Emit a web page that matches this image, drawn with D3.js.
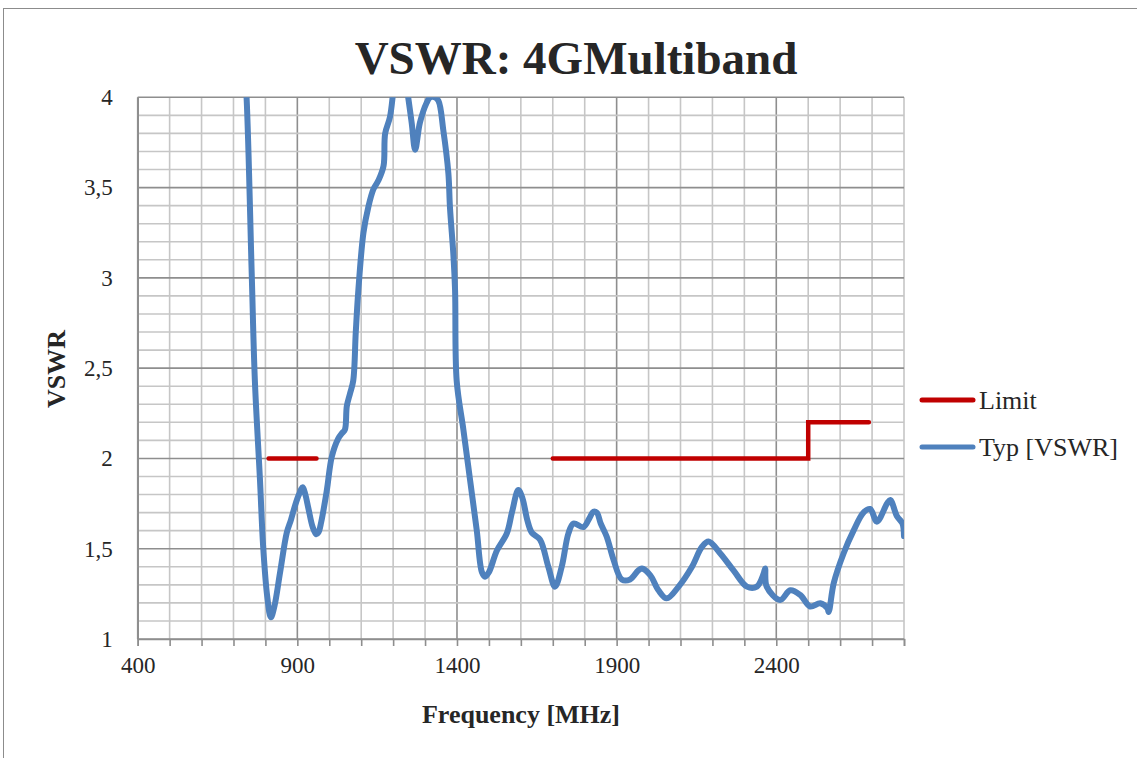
<!DOCTYPE html>
<html>
<head>
<meta charset="utf-8">
<script src="https://cdn.jsdelivr.net/npm/d3@7"></script>
<style>
	body { margin: 0; background: #fff; }
	text { font-family: "Liberation Serif", "DejaVu Serif", serif; fill: #262626; }
</style>
</head>
<body>
<svg id="chart" width="1137" height="758"></svg>
<script>
(function(d3) {
	'use strict';

	/** data */
	var typFreq = [700, 730, 741, 757, 767, 783, 793, 806, 817, 828, 846, 867, 880, 893, 905, 917, 925, 935, 948, 959,
		966, 975, 992, 1008, 1028, 1040, 1049, 1055, 1065, 1075, 1083, 1091, 1107, 1122, 1138, 1154, 1170, 1175, 1190, 1201,
		1220, 1243, 1258, 1269, 1284, 1305, 1316, 1330, 1342, 1357, 1373, 1378, 1389, 1394, 1399, 1420, 1441, 1462, 1478, 1488,
		1500, 1525, 1556, 1572, 1592, 1605, 1620, 1634, 1660, 1686, 1707, 1728, 1749, 1765, 1796, 1815, 1827, 1838, 1850, 1869,
		1890, 1916, 1942, 1968, 1979, 2005, 2031, 2057, 2094, 2136, 2167, 2188, 2224, 2266, 2308, 2339, 2360, 2365, 2370, 2412,
		2444, 2475, 2506, 2538, 2560, 2564, 2580, 2611, 2642, 2673, 2694, 2715, 2747, 2757, 2778, 2795, 2800];
	var typVswr = [4.6, 4.3, 4.0, 3.03, 2.43, 1.88, 1.51, 1.23, 1.12, 1.18, 1.37, 1.59, 1.66, 1.74, 1.80, 1.84, 1.80, 1.72, 1.62, 1.58,
		1.59, 1.65, 1.82, 2.01, 2.11, 2.14, 2.16, 2.29, 2.36, 2.43, 2.70, 2.93, 3.25, 3.39, 3.49, 3.54, 3.62, 3.80, 3.89, 4.04,
		4.3, 4.05, 3.86, 3.71, 3.86, 3.97, 4.0, 4.0, 3.98, 3.82, 3.58, 3.39, 3.12, 2.93, 2.43, 2.16, 1.88, 1.60, 1.37, 1.345,
		1.37, 1.49, 1.585, 1.70, 1.825, 1.78, 1.66, 1.59, 1.55, 1.40, 1.29, 1.40, 1.585, 1.64, 1.62, 1.67, 1.705, 1.70, 1.64, 1.566,
		1.44, 1.33, 1.33, 1.38, 1.39, 1.354, 1.27, 1.225, 1.29, 1.40, 1.51, 1.54, 1.475, 1.38, 1.29, 1.29, 1.36, 1.39, 1.29, 1.216,
		1.27, 1.244, 1.18, 1.198, 1.17, 1.15, 1.31, 1.475, 1.60, 1.70, 1.72, 1.65, 1.75, 1.77, 1.68, 1.64, 1.57];

	// null marks the gap between the two limit segments
	var limitFreq = [810, 960, null, 1700, 2500, 2500, 2690];
	var limitVswr = [2, 2, null, 2, 2, 2.2, 2.2];

	var xTicks = [400, 900, 1400, 1900, 2400];
	var xMinorTicks = d3.range(400, 2801, 100);
	var yTicks = [1, 1.5, 2, 2.5, 3, 3.5, 4];
	var yMinorTicks = d3.range(10, 41).map(function(v) { return v / 10; });

	var legendNames = ['Limit', 'Typ [VSWR]'];
	var colors = { limit: '#c00000', typ: '#4f81bd' };

	/** layout */
	var svg = d3.select('#chart');
	var left = 137.7, right = 904, top = 97.3, bottom = 639;

	var x = d3.scaleLinear().domain([400, 2800]).range([left, right]);
	var y = d3.scaleLinear().domain([1, 4]).range([bottom, top]);

	// outer frame
	svg.append('rect').attr('x', 3.5).attr('y', 8.5).attr('width', 1140).attr('height', 760)
		.attr('fill', 'none').attr('stroke', '#8c8c8c').attr('stroke-width', 1);

	/** grid */
	var grid = svg.append('g');
	grid.selectAll('.vminor').data(xMinorTicks).enter().append('line')
		.attr('x1', x).attr('x2', x).attr('y1', top).attr('y2', bottom)
		.attr('stroke', function(d) { return xTicks.indexOf(d) >= 0 ? '#8e8e8e' : '#c6c6c6'; })
		.attr('stroke-width', 1.6);
	grid.selectAll('.hminor').data(yMinorTicks).enter().append('line')
		.attr('x1', left).attr('x2', right).attr('y1', y).attr('y2', y)
		.attr('stroke', function(d) { return Math.abs(d * 2 - Math.round(d * 2)) < 1e-6 ? '#8e8e8e' : '#c6c6c6'; })
		.attr('stroke-width', 1.6);

	/** axes */
	var xAxis = d3.axisBottom(x).tickValues(xMinorTicks).tickSize(7)
		.tickFormat(function(d) { return xTicks.indexOf(d) >= 0 ? d : ''; });
	var gx = svg.append('g').attr('transform', 'translate(0,' + bottom + ')').call(xAxis);
	gx.select('.domain').attr('stroke', '#8e8e8e').attr('stroke-width', 1.6);
	gx.selectAll('.tick line').attr('stroke', '#8e8e8e').attr('stroke-width', 1.6);
	gx.selectAll('.tick text').attr('dy', '1.05em')
		.style('font-family', '"Liberation Serif", serif').style('font-size', '23px').attr('fill', '#262626');

	var yAxis = d3.axisLeft(y).tickValues(yTicks).tickSize(0).tickPadding(25)
		.tickFormat(function(d) { return String(d).replace('.', ','); });
	var gy = svg.append('g').attr('transform', 'translate(' + left + ',0)').call(yAxis);
	gy.select('.domain').attr('stroke', '#8e8e8e').attr('stroke-width', 1.6);
	gy.selectAll('.tick text')
		.style('font-family', '"Liberation Serif", serif').style('font-size', '23px').attr('fill', '#262626');

	/** series */
	svg.append('clipPath').attr('id', 'plot-clip').append('rect')
		.attr('x', left).attr('y', top).attr('width', right - left).attr('height', bottom - top);

	var typData = typFreq.map(function(f, i) { return [f, typVswr[i]]; });
	var limitData = limitFreq.map(function(f, i) { return [f, limitVswr[i]]; });

	var line = d3.line()
		.defined(function(d) { return d[0] !== null; })
		.x(function(d) { return x(d[0]); })
		.y(function(d) { return y(d[1]); });

	var series = svg.append('g').attr('clip-path', 'url(#plot-clip)');
	series.append('path').datum(limitData)
		.attr('d', line.curve(d3.curveLinear))
		.attr('fill', 'none').attr('stroke', colors.limit).attr('stroke-width', 4.5)
		.attr('stroke-linecap', 'round');
	series.append('path').datum(typData)
		.attr('d', line.curve(d3.curveCatmullRom.alpha(0.5)))
		.attr('fill', 'none').attr('stroke', colors.typ).attr('stroke-width', 6)
		.attr('stroke-linejoin', 'round').attr('stroke-linecap', 'round');

	/** titles */
	svg.append('text').attr('x', 576).attr('y', 74).attr('text-anchor', 'middle')
		.style('font-size', '47px').style('font-weight', 'bold').text('VSWR: 4GMultiband');
	svg.append('text').attr('x', 521).attr('y', 723).attr('text-anchor', 'middle')
		.style('font-size', '26px').style('font-weight', 'bold').text('Frequency [MHz]');
	svg.append('text').attr('transform', 'translate(65,369) rotate(-90)').attr('text-anchor', 'middle')
		.style('font-size', '26px').style('font-weight', 'bold').text('VSWR');

	/** legend */
	var legend = svg.append('g').selectAll('g').data(legendNames).enter().append('g')
		.attr('transform', function(d, i) { return 'translate(920,' + (400 + i * 47) + ')'; });
	legend.append('line').attr('x1', 2).attr('x2', 53).attr('y1', 0).attr('y2', 0)
		.attr('stroke', function(d, i) { return i === 0 ? colors.limit : colors.typ; })
		.attr('stroke-width', 5).attr('stroke-linecap', 'round');
	legend.append('text').attr('x', 59).attr('y', 9).style('font-size', '26px').text(function(d) { return d; });
})(d3);
</script>
</body>
</html>
